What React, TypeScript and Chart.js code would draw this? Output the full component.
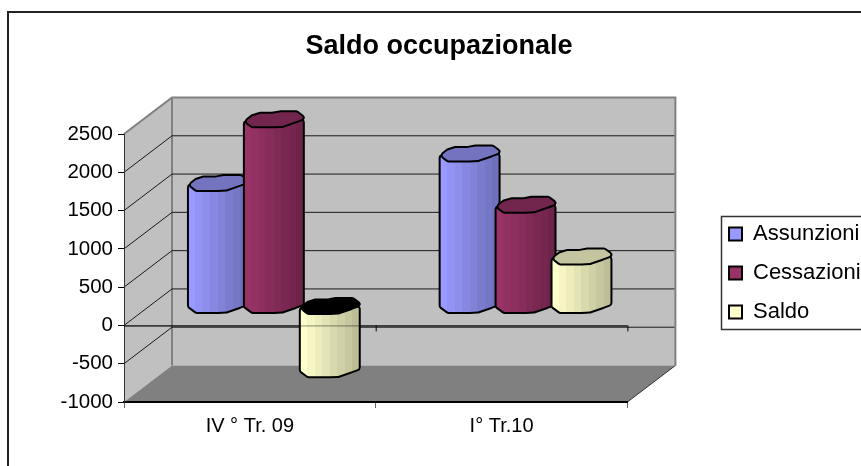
import React, { useEffect, useRef } from "react";
import { Chart, registerables } from "chart.js";

Chart.register(...registerables);

const categories = ["IV ° Tr. 09", "I° Tr.10"];
const assunzioni = [1600, 1985];
const cessazioni = [2430, 1315];
const saldo = [-835, 640];
const seriesNames = ["Assunzioni", "Cessazioni", "Saldo"];
const seriesFronts = ["#9999FF", "#993366", "#FFFFCC"];
const seriesSides = ["#7070BC", "#6E244A", "#BDBD97"];
const seriesTops = ["#7373BF", "#73264D", "#C4C4A0"];

const FONT = "'Liberation Sans', Arial, sans-serif";
const DEPTH_X = 48;
const DEPTH_Y = -36.5;
const MID_X = 24;
const MID_Y = -20;

// outline of the faceted cylinder, as [fraction of half-width, px from centre]
const backEdge: [number, number][] = [
  [-1, 2], [-0.74, -4], [-0.47, -6.5], [-0.07, -6.5], [0.2, -8], [0.77, -8], [1, -3], [1, 0],
];
const frontEdge: [number, number][] = [
  [1, 0], [0.73, 3], [0.3, 7.5], [0, 8], [-0.73, 8], [-1, 2],
];

function hexMix(a: string, b: string, t: number) {
  const p = (h: string, i: number) => parseInt(h.slice(i, i + 2), 16);
  const c = [1, 3, 5].map((i) => Math.round(p(a, i) + (p(b, i) - p(a, i)) * t));
  return `rgb(${c[0]},${c[1]},${c[2]})`;
}

// closed polygon with softened corners
function softPath(ctx: any, pts: [number, number][], r = 3) {
  const n = pts.length;
  const mx = (pts[0][0] + pts[n - 1][0]) / 2;
  const my = (pts[0][1] + pts[n - 1][1]) / 2;
  ctx.moveTo(mx, my);
  for (let i = 0; i < n; i++) {
    const q = pts[(i + 1) % n];
    ctx.arcTo(pts[i][0], pts[i][1], q[0], q[1], r);
  }
  ctx.closePath();
}

const scene3d = {
  id: "scene3d",
  beforeDraw(chart: any) {
    const { ctx, chartArea: a, scales } = chart;
    const y = scales.y;
    ctx.save();
    ctx.fillStyle = "#fff";
    ctx.fillRect(0, 0, chart.width, chart.height);
    ctx.strokeStyle = "#222";
    ctx.lineWidth = 2;
    ctx.strokeRect(8, 12, 900, 520);

    const bx = DEPTH_X, by = DEPTH_Y;
    ctx.fillStyle = "#C0C0C0";
    ctx.fillRect(a.left + bx, a.top + by, a.right - a.left, a.bottom - a.top);
    ctx.beginPath();
    ctx.moveTo(a.left, a.top);
    ctx.lineTo(a.left + bx, a.top + by);
    ctx.lineTo(a.left + bx, a.bottom + by);
    ctx.lineTo(a.left, a.bottom);
    ctx.closePath();
    ctx.fill();
    ctx.fillStyle = "#808080";
    ctx.beginPath();
    ctx.moveTo(a.left, a.bottom);
    ctx.lineTo(a.left + bx, a.bottom + by);
    ctx.lineTo(a.right + bx, a.bottom + by);
    ctx.lineTo(a.right, a.bottom);
    ctx.closePath();
    ctx.fill();
    ctx.strokeStyle = "#808080";
    ctx.lineWidth = 2;
    ctx.beginPath();
    ctx.moveTo(a.left, a.top);
    ctx.lineTo(a.left + bx, a.top + by);
    ctx.lineTo(a.right + bx, a.top + by);
    ctx.lineTo(a.right + bx, a.bottom + by);
    ctx.moveTo(a.left + bx, a.top + by);
    ctx.lineTo(a.left + bx, a.bottom + by);
    ctx.stroke();
    ctx.strokeStyle = "#1a1a1a";
    ctx.lineWidth = 1;
    y.ticks.forEach((t: any) => {
      if (t.value === y.max || t.value === y.min) return;
      const py = y.getPixelForValue(t.value);
      ctx.beginPath();
      ctx.moveTo(a.left, py);
      ctx.lineTo(a.left + bx, py + by);
      ctx.lineTo(a.right + bx - 1, py + by);
      ctx.stroke();
    });
    ctx.strokeStyle = "#333";
    ctx.beginPath();
    ctx.moveTo(a.right, a.bottom);
    ctx.lineTo(a.right + bx, a.bottom + by);
    ctx.stroke();
    ctx.restore();
  },
  beforeDatasetsDraw(chart: any) {
    const { ctx, chartArea: a, scales } = chart;
    const zero = scales.y.getPixelForValue(0);
    const axisLine = (style: string) => {
      ctx.strokeStyle = style;
      ctx.lineWidth = 1;
      ctx.beginPath();
      ctx.moveTo(a.left, zero + 0.5);
      ctx.lineTo(a.right, zero + 0.5);
      ctx.stroke();
    };
    ctx.save();
    axisLine("#000");
    ctx.beginPath();
    [1, 2].forEach((i) => {
      const px = a.left + ((a.right - a.left) * i) / 2;
      ctx.moveTo(px + 0.5, zero);
      ctx.lineTo(px + 0.5, zero + 6);
    });
    ctx.stroke();

    ctx.lineJoin = "round";
    ctx.lineWidth = 2;
    ctx.strokeStyle = "#000";
    chart.data.datasets.forEach((ds: any, di: number) => {
      const meta = chart.getDatasetMeta(di);
      meta.data.forEach((el: any, i: number) => {
        const hw = el.width / 2 + 2;
        const cx = el.x + MID_X;
        const yVal = el.y + MID_Y;
        const yBase = el.base + MID_Y;
        const top = Math.min(yVal, yBase);
        const bot = Math.max(yVal, yBase);
        const negative = ds.data[i] < 0;

        const grad = ctx.createLinearGradient(cx - hw, 0, cx + hw, 0);
        const bands = 8;
        for (let b = 0; b < bands; b++) {
          const col = hexMix(seriesFronts[di], seriesSides[di], b / (bands - 1));
          grad.addColorStop(b / bands, col);
          grad.addColorStop((b + 1) / bands, col);
        }
        const body: [number, number][] = [[cx - hw, top + 2]];
        [...frontEdge].reverse().forEach(([fx, dy]) => body.push([cx + fx * hw, bot + dy]));
        body.push([cx + hw, top]);
        ctx.beginPath();
        softPath(ctx, body, 3);
        ctx.fillStyle = grad;
        ctx.fill();
        ctx.stroke();

        const cap: [number, number][] = [];
        backEdge.forEach(([fx, dy]) => cap.push([cx + fx * hw, top + dy]));
        frontEdge.slice(1, -1).forEach(([fx, dy]) => cap.push([cx + fx * hw, top + dy]));
        ctx.beginPath();
        softPath(ctx, cap, 3);
        ctx.fillStyle = negative ? "#000" : seriesTops[di];
        ctx.fill();
        ctx.stroke();
      });
    });
    axisLine("rgba(0,0,0,0.45)");
    ctx.restore();
    return false;
  },
  afterLayout(chart: any) {
    const lg = chart.legend;
    const w = lg.width, h = lg.height;
    lg.left = 712;
    lg.right = 712 + w;
    lg.top = 206;
    lg.bottom = 206 + h;
    const tb = chart.titleBlock;
    tb.left = 0;
    tb.right = 878;
  },
  afterDraw(chart: any) {
    const { ctx } = chart;
    ctx.save();
    ctx.strokeStyle = "#333";
    ctx.lineWidth = 1.5;
    ctx.strokeRect(721.5, 216.5, 200, 113);
    ctx.restore();
  },
};

export default function App() {
  const ref = useRef<HTMLCanvasElement>(null);
  useEffect(() => {
    const values = [assunzioni, cessazioni, saldo];
    const chart = new Chart(ref.current as HTMLCanvasElement, {
      type: "bar",
      data: {
        labels: categories,
        datasets: seriesNames.map((label, i) => ({
          label,
          data: values[i],
          backgroundColor: seriesFronts[i],
          borderColor: "#000",
          borderWidth: 2,
          barPercentage: 1,
          categoryPercentage: 2 / 3,
        })),
      },
      options: {
        responsive: false,
        animation: false,
        events: [],
        layout: { padding: { left: 0, top: 0, right: 75, bottom: 0 } },
        plugins: {
          tooltip: { enabled: false },
          title: {
            display: true,
            text: "Saldo occupazionale",
            color: "#000",
            font: { family: FONT, size: 27, weight: "bold", lineHeight: 1.2 },
            padding: { top: 30, bottom: 71.6 },
          },
          legend: {
            display: true,
            position: "right",
            align: "start",
            labels: {
              color: "#000",
              boxWidth: 13,
              boxHeight: 13,
              padding: 17,
              font: { family: FONT, size: 22, lineHeight: 1.2 },
            },
          },
        },
        scales: {
          x: {
            afterFit(s: any) { s.height = 64; },
            grid: { display: true, drawOnChartArea: false, offset: true, tickLength: 6, tickColor: "#666", tickWidth: 1 },
            border: { display: true, color: "#000", width: 2 },
            ticks: { color: "#000", font: { family: FONT, size: 20 }, padding: 6, maxRotation: 0 },
          },
          y: {
            min: -1000,
            max: 2500,
            afterFit(s: any) { s.width = 124; },
            grid: { display: true, drawOnChartArea: false, tickLength: 6, tickColor: "#000", tickWidth: 1 },
            border: { display: true, color: "#333", width: 1 },
            ticks: {
              stepSize: 500,
              color: "#000",
              font: { family: FONT, size: 20.5 },
              padding: 5,
              callback: (v: any) => String(v),
            },
          },
        },
      },
      plugins: [scene3d],
    } as any);
    return () => chart.destroy();
  }, []);
  return (
    <div style={{ position: "fixed", left: 0, top: 0, width: 861, height: 466, overflow: "hidden" }}>
      <canvas ref={ref} width={861} height={466} style={{ display: "block" }} />
    </div>
  );
}
